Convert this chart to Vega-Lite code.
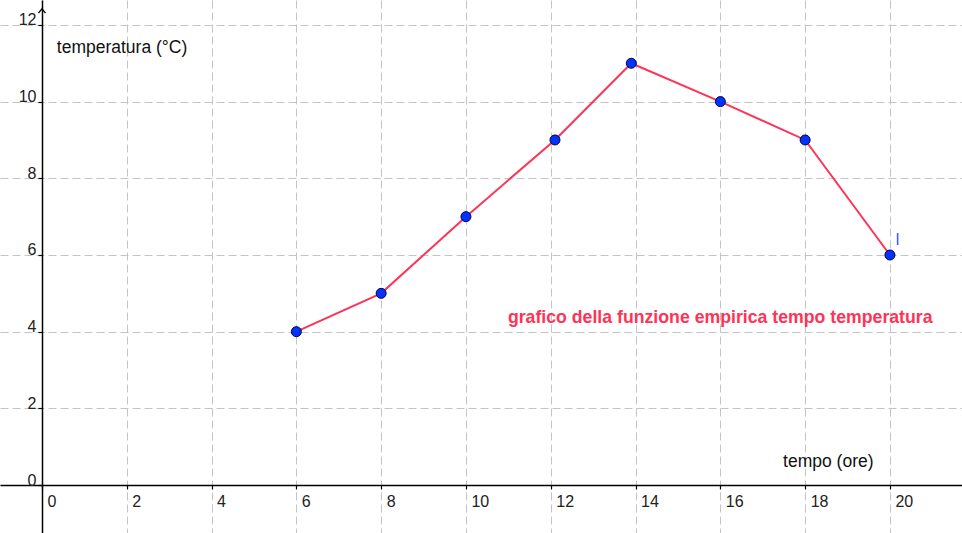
{
  "$schema": "https://vega.github.io/schema/vega-lite/v6.json",
  "width": 962,
  "height": 533,
  "autosize": {"type": "fit", "contains": "padding"},
  "padding": 0,
  "background": "white",
  "view": {"stroke": null},
  "config": {
    "font": "Liberation Sans",
    "axis": {
      "gridColor": "#c4c4c4",
      "gridDash": [8, 4],
      "gridWidth": 1,
      "gridOpacity": 1,
      "domainColor": "#000000",
      "domainWidth": 1.5,
      "tickColor": "#000000",
      "tickSize": 4,
      "tickWidth": 1.2,
      "labelFont": "Liberation Sans",
      "labelFontSize": 16,
      "labelColor": "#222222",
      "labelFlush": false,
      "labelOverlap": false,
      "title": null
    }
  },
  "datasets": {
    "pts": [
      {"tempo": 6, "temperatura": 4},
      {"tempo": 8, "temperatura": 5},
      {"tempo": 10, "temperatura": 7},
      {"tempo": 12.1, "temperatura": 9},
      {"tempo": 13.9, "temperatura": 11},
      {"tempo": 16, "temperatura": 10},
      {"tempo": 18, "temperatura": 9},
      {"tempo": 20, "temperatura": 6}
    ],
    "labels": [
      {"tempo": 0.35, "temperatura": 11.27, "testo": "temperatura (°C)", "tipo": "asse"},
      {"tempo": 17.48, "temperatura": 0.47, "testo": "tempo (ore)", "tipo": "asse"},
      {"tempo": 10.99, "temperatura": 4.23, "testo": "grafico della funzione empirica tempo temperatura", "tipo": "titolo"},
      {"tempo": 20.14, "temperatura": 6.26, "testo": "l", "tipo": "nome"}
    ],
    "arrow": [
      {"tempo": 0, "temperatura": 12.42}
    ]
  },
  "layer": [
    {
      "data": {"name": "pts"},
      "mark": {"type": "line", "color": "#ff3355", "strokeWidth": 2},
      "encoding": {
        "x": {
          "field": "tempo", "type": "quantitative",
          "scale": {"domain": [-0.99, 21.7], "nice": false, "zero": false},
          "axis": {
            "values": [0, 2, 4, 6, 8, 10, 12, 14, 16, 18, 20],
            "offset": -48,
            "labelAlign": "left",
            "labelBaseline": "alphabetic",
            "labelPadding": 17,
            "labelOffset": 5
          }
        },
        "y": {
          "field": "temperatura", "type": "quantitative",
          "scale": {"domain": [-1.25, 12.65], "nice": false, "zero": false},
          "axis": {
            "values": [0, 2, 4, 6, 8, 10, 12],
            "offset": -42,
            "labelAlign": "right",
            "labelBaseline": "alphabetic",
            "labelPadding": 2,
            "labelDy": -2
          }
        }
      }
    },
    {
      "data": {"name": "pts"},
      "mark": {"type": "point", "filled": true, "fill": "#0033ff", "stroke": "#000044", "strokeWidth": 1, "size": 100, "opacity": 1},
      "encoding": {
        "x": {"field": "tempo", "type": "quantitative"},
        "y": {"field": "temperatura", "type": "quantitative"}
      }
    },
    {
      "data": {"name": "arrow"},
      "mark": {"type": "point", "shape": "M-1,1.2L0,0L1,1.2", "filled": false, "fill": null, "stroke": "#000000", "strokeWidth": 1.3, "size": 50, "opacity": 1},
      "encoding": {
        "x": {"field": "tempo", "type": "quantitative"},
        "y": {"field": "temperatura", "type": "quantitative"}
      }
    },
    {
      "data": {"name": "labels"},
      "transform": [{"filter": "datum.tipo === 'asse'"}],
      "mark": {"type": "text", "align": "left", "baseline": "alphabetic", "fontSize": 17.5, "color": "#111111", "font": "Liberation Sans"},
      "encoding": {
        "x": {"field": "tempo", "type": "quantitative"},
        "y": {"field": "temperatura", "type": "quantitative"},
        "text": {"field": "testo"}
      }
    },
    {
      "data": {"name": "labels"},
      "transform": [{"filter": "datum.tipo === 'titolo'"}],
      "mark": {"type": "text", "align": "left", "baseline": "alphabetic", "fontSize": 17.7, "fontWeight": "bold", "color": "#ff3355", "font": "Liberation Sans"},
      "encoding": {
        "x": {"field": "tempo", "type": "quantitative"},
        "y": {"field": "temperatura", "type": "quantitative"},
        "text": {"field": "testo"}
      }
    },
    {
      "data": {"name": "labels"},
      "transform": [{"filter": "datum.tipo === 'nome'"}],
      "mark": {"type": "text", "align": "left", "baseline": "alphabetic", "fontSize": 16, "color": "#3355ff", "font": "Liberation Sans"},
      "encoding": {
        "x": {"field": "tempo", "type": "quantitative"},
        "y": {"field": "temperatura", "type": "quantitative"},
        "text": {"field": "testo"}
      }
    }
  ]
}
